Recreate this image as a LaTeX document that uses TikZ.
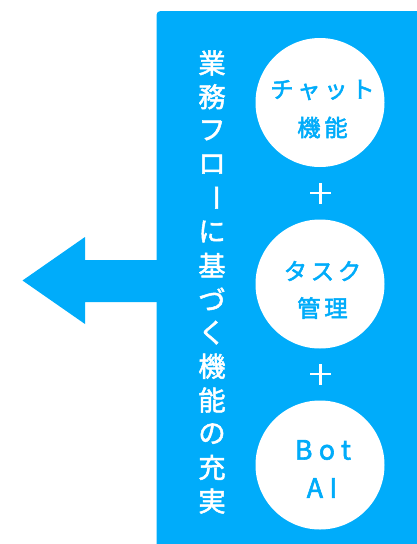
\documentclass[tikz,border=0pt]{standalone}
\usepackage{fontspec}
\setmainfont[FakeBold=1.8]{Noto Sans CJK JP}
\newfontfamily\circfont[LetterSpace=16,FakeBold=2.2]{Noto Sans CJK JP}
\newfontfamily\latfont[LetterSpace=24,FakeBold=2.2]{Noto Sans CJK JP}
\definecolor{skyb}{RGB}{0,172,250}
\begin{document}
\begin{tikzpicture}[x=0.75pt,y=-0.75pt,
  bubble/.style={circle, fill=white, minimum size=129*0.75pt, inner sep=0pt},
  bubtext/.style={text=skyb, font=\circfont\fontsize{17.5pt}{21pt}\selectfont, inner sep=0pt, anchor=center},
  lattext/.style={text=skyb, font=\latfont\fontsize{20pt}{24pt}\selectfont, inner sep=0pt, anchor=center},
  vchar/.style={text=white, font=\fontsize{20.5pt}{24pt}\selectfont, inner sep=0pt, anchor=center},
  plusline/.style={draw=white, line width=1.6pt}]
\useasboundingbox (0,0) rectangle (417,544);
% panel
\fill[skyb, rounded corners=3pt] (156.5,11) rectangle (440,570);
% arrow
\fill[skyb] (22.5,280.5) -- (85,237) -- (85,260) -- (158,260) -- (158,302) -- (85,302) -- (85,324) -- cycle;
% vertical text
\foreach \c [count=\i] in {業,務,フ,ロ,ー,に,基,づ,く,機,能,の,充,実}{
  \ifnum\i=5
    \node[vchar, rotate=-90] (v\i) at (212, {63+33.7*(\i-1)}) {\c};
  \else
    \node[vchar] (v\i) at (212, {63+33.7*(\i-1)}) {\c};
  \fi
}
% circles
\node[bubble] (c1) at (320,102.5) {};
\node[bubble] (c2) at (320,284) {};
\node[bubble] (c3) at (320,465) {};
\node[bubtext] (t1a) at (322.5,90) {チャット};
\node[bubtext] (t1b) at (322.5,127.5) {機能};
\node[bubtext] (t2a) at (322.5,271) {タスク};
\node[bubtext] (t2b) at (322.5,308) {管理};
\node[lattext] (t3a) at (323,450) {Bot};
\node[lattext] (t3b) at (322,488) {AI};
% plus signs
\coordinate (p1) at (320.5,193);
\coordinate (p2) at (320.5,374);
\foreach \p in {p1,p2}{
  \draw[plusline] ([xshift=-10.5*0.75pt]\p) -- ([xshift=10.5*0.75pt]\p);
  \draw[plusline] ([yshift=-10.5*0.75pt]\p) -- ([yshift=10.5*0.75pt]\p);
}
\end{tikzpicture}
\end{document}
